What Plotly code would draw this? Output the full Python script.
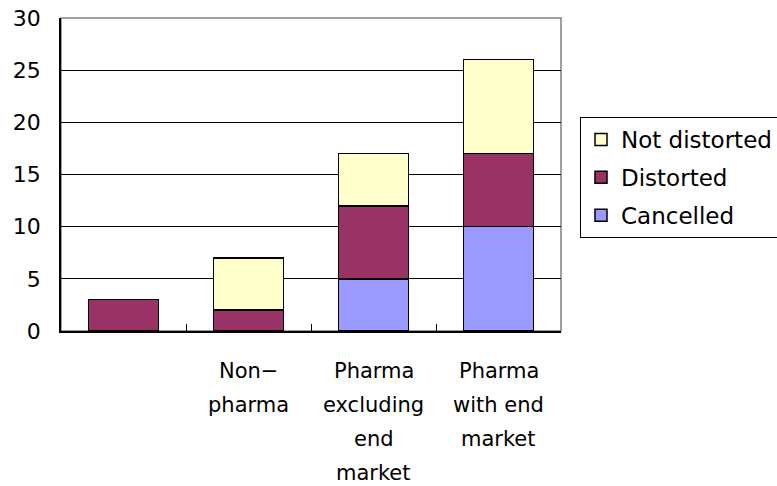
import plotly.graph_objects as go

categories = ["", "Non\u2212<br>pharma", "Pharma<br>excluding<br>end<br>market", "Pharma<br>with end<br>market"]
cancelled = [0, 0, 5, 10]
distorted = [3, 2, 7, 7]
not_distorted = [0, 5, 5, 9]

FONT = "DejaVu Sans"

fig = go.Figure()
for name, vals, color, rank in [
    ("Cancelled", cancelled, "#9999FF", 3),
    ("Distorted", distorted, "#993366", 2),
    ("Not distorted", not_distorted, "#FFFFCC", 1),
]:
    fig.add_trace(go.Bar(
        x=categories, y=vals, name=name, legendgroup=name, legendrank=rank,
        marker=dict(color=color, line=dict(color="black", width=1.5)),
    ))

# category labels, one annotation per line to get the wide line spacing
for cat in categories:
    for i, line in enumerate(cat.split("<br>")):
        if not line:
            continue
        fig.add_annotation(
            x=cat, y=0, xref="x", yref="y", text=line, showarrow=False,
            yanchor="middle", xanchor="center", yshift=-40 - i * 34,
            font=dict(family=FONT, size=21, color="black"),
        )

fig.update_layout(
    width=777, height=486,
    barmode="stack", bargap=0.44,
    paper_bgcolor="white", plot_bgcolor="white",
    margin=dict(l=61, r=216, t=18, b=155),
    font=dict(family=FONT, size=20, color="black"),
    legend=dict(
        xref="container", yref="container",
        x=580 / 777, y=1 - 117 / 486, xanchor="left", yanchor="top",
        traceorder="grouped", tracegroupgap=5,
        bordercolor="black", borderwidth=1, bgcolor="white",
        font=dict(size=23),
        itemwidth=30,
    ),
    showlegend=True,
)
fig.update_xaxes(
    type="category",
    showline=True, linecolor="black", linewidth=1.5,
    ticks="inside", tickson="boundaries", ticklen=7, tickcolor="black",
    showgrid=False, mirror=False,
    showticklabels=False, automargin=False,
)
fig.update_yaxes(
    range=[0, 30], dtick=5,
    showline=True, linecolor="black", linewidth=1.5,
    showgrid=True, gridcolor="black", gridwidth=1,
    ticks="", tickfont=dict(size=22),
    ticklabelstandoff=14, automargin=False,
    zeroline=False,
)
# grey plot-area border on top and right
fig.add_shape(type="rect", xref="paper", yref="paper", x0=0, x1=1, y0=0, y1=1,
              line=dict(color="#808080", width=1.5), layer="below")

fig.write_html("out.html")
